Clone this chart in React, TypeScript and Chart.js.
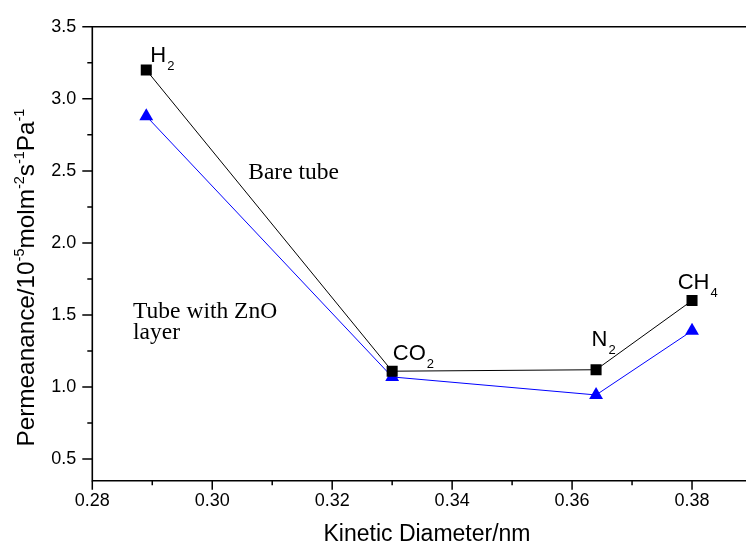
import React, { useEffect, useRef } from "react";
import { Chart, registerables } from "chart.js";

Chart.register(...registerables);

// ---- data ----
const gasNames = ["H", "CO", "N", "CH"];
const gasSubscripts = ["2", "2", "2", "4"];
const kineticDiameter = [0.289, 0.33, 0.364, 0.38];
const bareTube = [3.2, 1.11, 1.12, 1.6];
const znoTube = [2.88, 1.07, 0.945, 1.39];

const xMajorTicks = [0.28, 0.3, 0.32, 0.34, 0.36, 0.38];
const xMinorTicks = [0.29, 0.31, 0.33, 0.35, 0.37];
const yMajorTicks = [0.5, 1.0, 1.5, 2.0, 2.5, 3.0, 3.5];
const yMinorTicks = [0.75, 1.25, 1.75, 2.25, 2.75, 3.25];

const xTitle = "Kinetic Diameter/nm";
const yTitleParts = [
  { text: "Permeanance/10", sup: false },
  { text: "-5", sup: true },
  { text: "molm", sup: false },
  { text: "-2", sup: true },
  { text: "s", sup: false },
  { text: "-1", sup: true },
  { text: "Pa", sup: false },
  { text: "-1", sup: true },
];

// annotations: text at data position (baseline)
const notes = [
  { text: "Bare tube", x: 0.306, y: 2.443 },
  { text: "Tube with ZnO", x: 0.2868, y: 1.479 },
  { text: "layer", x: 0.2868, y: 1.332 },
];

// pixel offsets of the gas labels from their bare-tube point (style only)
const gasLabelOffsets = [
  { dx: 4, dy: -8.4 },
  { dx: 0.7, dy: -11 },
  { dx: -4.5, dy: -23.3 },
  { dx: -14.3, dy: -11.7 },
];

const SANS = "'Liberation Sans', Arial, Helvetica, sans-serif";
const SERIF = "'Liberation Serif', 'Times New Roman', Times, serif";

const decorPlugin = {
  id: "decor",
  afterDraw(chart: any) {
    const { ctx, chartArea } = chart;
    const xs = chart.scales.x;
    const ys = chart.scales.y;
    const { left, top, bottom, right } = chartArea;
    ctx.save();
    ctx.strokeStyle = "#000";
    ctx.lineWidth = 1.6;
    // frame: left, bottom, top
    ctx.beginPath();
    ctx.moveTo(left, top);
    ctx.lineTo(left, bottom);
    ctx.moveTo(left - 0.8, bottom);
    ctx.lineTo(right + 10, bottom);
    ctx.moveTo(left - 0.8, top);
    ctx.lineTo(right + 10, top);
    ctx.stroke();

    // ticks
    ctx.lineWidth = 1.5;
    ctx.beginPath();
    xMajorTicks.forEach((v) => {
      const px = xs.getPixelForValue(v);
      ctx.moveTo(px, bottom);
      ctx.lineTo(px, bottom + 9);
    });
    xMinorTicks.forEach((v) => {
      const px = xs.getPixelForValue(v);
      ctx.moveTo(px, bottom);
      ctx.lineTo(px, bottom + 4.5);
    });
    yMajorTicks.forEach((v) => {
      const py = ys.getPixelForValue(v);
      ctx.moveTo(left, py);
      ctx.lineTo(left - 10, py);
    });
    yMinorTicks.forEach((v) => {
      const py = ys.getPixelForValue(v);
      ctx.moveTo(left, py);
      ctx.lineTo(left - 5, py);
    });
    ctx.stroke();

    ctx.fillStyle = "#000";
    ctx.textBaseline = "alphabetic";

    // x title
    ctx.font = `23px ${SANS}`;
    ctx.textAlign = "center";
    ctx.fillText(xTitle, 427, 541);

    // y title (rotated, with superscripts)
    ctx.textAlign = "left";
    const mainFont = `24.3px ${SANS}`;
    const supFont = `14.5px ${SANS}`;
    let total = 0;
    yTitleParts.forEach((p) => {
      ctx.font = p.sup ? supFont : mainFont;
      total += ctx.measureText(p.text).width;
    });
    ctx.save();
    ctx.translate(33.5, 277.5 + total / 2);
    ctx.rotate(-Math.PI / 2);
    let cx = 0;
    yTitleParts.forEach((p) => {
      ctx.font = p.sup ? supFont : mainFont;
      ctx.fillText(p.text, cx, p.sup ? -9.5 : 0);
      cx += ctx.measureText(p.text).width;
    });
    ctx.restore();

    // gas labels
    gasNames.forEach((name, i) => {
      const px = xs.getPixelForValue(kineticDiameter[i]) + gasLabelOffsets[i].dx;
      const py = ys.getPixelForValue(bareTube[i]) + gasLabelOffsets[i].dy;
      ctx.font = `22px ${SANS}`;
      ctx.fillText(name, px, py);
      const w = ctx.measureText(name).width;
      ctx.font = `13px ${SANS}`;
      ctx.fillText(gasSubscripts[i], px + w + 1, py + 8);
    });

    // notes
    ctx.font = `23.5px ${SERIF}`;
    notes.forEach((n) => {
      ctx.fillText(n.text, xs.getPixelForValue(n.x), ys.getPixelForValue(n.y));
    });
    ctx.restore();
  },
};

export default function App() {
  const canvasRef = useRef<HTMLCanvasElement | null>(null);

  useEffect(() => {
    const canvas = canvasRef.current;
    if (!canvas) return;
    const chart = new Chart(canvas, {
      type: "line",
      data: {
        datasets: [
          {
            label: "Bare tube",
            data: kineticDiameter.map((x, i) => ({ x, y: bareTube[i] })),
            borderColor: "#000000",
            borderWidth: 1,
            pointStyle: "rect",
            pointRadius: 7.8,
            pointBackgroundColor: "#000000",
            pointBorderColor: "#000000",
            pointBorderWidth: 0,
            tension: 0,
            fill: false,
          },
          {
            label: "Tube with ZnO layer",
            data: kineticDiameter.map((x, i) => ({ x, y: znoTube[i] })),
            borderColor: "#0000ff",
            borderWidth: 1,
            pointStyle: "triangle",
            pointRadius: 8,
            pointBackgroundColor: "#0000ff",
            pointBorderColor: "#0000ff",
            pointBorderWidth: 0,
            tension: 0,
            fill: false,
          },
        ],
      },
      options: {
        animation: false,
        responsive: false,
        devicePixelRatio: 1,
        layout: { padding: { top: 23.3, right: 5.5, left: 0, bottom: 0 } },
        plugins: {
          legend: { display: false },
          tooltip: { enabled: false },
        },
        scales: {
          x: {
            type: "linear",
            min: 0.28,
            max: 0.39,
            grid: { display: false, drawTicks: false },
            border: { display: false },
            afterBuildTicks: (s: any) => {
              s.ticks = xMajorTicks.map((v) => ({ value: v }));
            },
            afterFit: (s: any) => {
              s.height = 545 - 480.7;
            },
            ticks: {
              padding: 10,
              color: "#000",
              font: { family: SANS, size: 18 },
              maxRotation: 0,
              autoSkip: false,
              callback: (v: any) => Number(v).toFixed(2),
            },
          },
          y: {
            type: "linear",
            min: 0.35,
            max: 3.5,
            grid: { display: false, drawTicks: false },
            border: { display: false },
            afterBuildTicks: (s: any) => {
              s.ticks = yMajorTicks.map((v) => ({ value: v }));
            },
            afterFit: (s: any) => {
              s.width = 92.3;
            },
            ticks: {
              padding: 16,
              color: "#000",
              font: { family: SANS, size: 18 },
              autoSkip: false,
              callback: (v: any) => Number(v).toFixed(1),
            },
          },
        },
      },
      plugins: [decorPlugin],
    });
    return () => chart.destroy();
  }, []);

  return (
    <div
      style={{
        position: "fixed",
        left: 0,
        top: 0,
        width: 746,
        height: 545,
        overflow: "hidden",
        background: "#fff",
      }}
    >
      <canvas
        ref={canvasRef}
        width={760}
        height={545}
        style={{ display: "block", width: 760, height: 545 }}
      />
    </div>
  );
}
